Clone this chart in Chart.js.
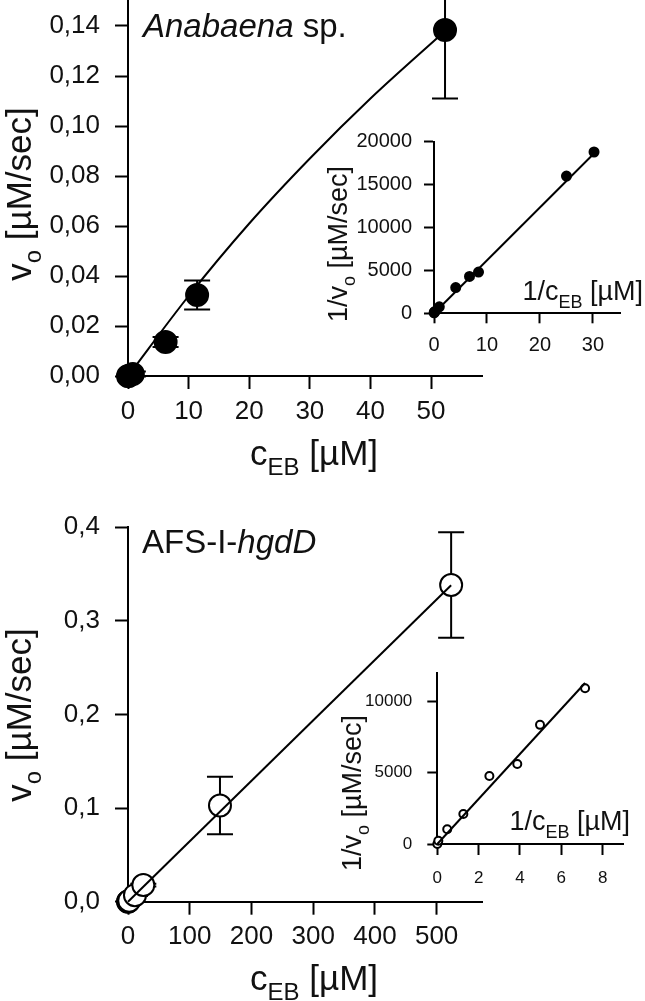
<!DOCTYPE html>
<html lang="en">
<head>
<meta charset="UTF-8">
<title>v0 vs cEB</title>
<script src="https://cdn.jsdelivr.net/npm/chart.js@4.4.1/dist/chart.umd.min.js"></script>
<style>
  body { margin: 0; background: #fff; }
  #wrap { position: relative; width: 645px; height: 1001px; }
  canvas { position: absolute; left: 0; top: 0; }
</style>
</head>
<body>
<div id="wrap">
  <canvas id="topMain" width="645" height="1001"></canvas>
  <canvas id="topInset" width="645" height="1001"></canvas>
  <canvas id="botMain" width="645" height="1001"></canvas>
  <canvas id="botInset" width="645" height="1001"></canvas>
</div>
<script>
// Anabaena sp. (filled circles)
const anaC      = [0, 0.1, 0.8, 6.2, 11.4, 52.3];
const anaV      = [0, 0, 0.0008, 0.0136, 0.0324, 0.1384];
const anaErr    = [0, 0, 0.001, 0.002, 0.0058, 0.0274];
const anaFitC   = [0, 10, 20, 30, 40, 52.3];
const anaFitV   = [0, 0.032, 0.061, 0.087, 0.111, 0.138];
// Anabaena inset, 1/c vs 1/v
const anaInvC    = [0.02, 0.09, 0.17, 1, 4.1, 6.7, 8.4, 25, 30.2];
const anaInvV    = [50, 150, 200, 750, 3000, 4300, 4800, 16000, 18800];
const anaInvFitC = [0, 30.8];
const anaInvFitV = [0, 19000];

// AFS-I-hgdD (open circles)
const afsC    = [0, 0.4, 2, 11.3, 24.8, 149, 523.5];
const afsV    = [0, 0.0003, 0.001, 0.007, 0.0178, 0.1028, 0.3383];
const afsErr  = [0, 0, 0, 0.001, 0.0015, 0.0308, 0.0564];
const afsFitC = [0, 523.5];
const afsFitV = [0, 0.338];
// AFS inset
const afsInvC    = [0.002, 0.05, 0.48, 1.26, 2.52, 3.87, 4.97, 7.15];
const afsInvV    = [0, 230, 1030, 2100, 4775, 5620, 8360, 10930];
const afsInvFitC = [0, 7.15];
const afsInvFitV = [0, 11300];

// tick values and labels
const topXTicks = [0, 10, 20, 30, 40, 50];
const topXLabels = ['0', '10', '20', '30', '40', '50'];
const topYTicks = [0, 0.02, 0.04, 0.06, 0.08, 0.10, 0.12, 0.14];
const topYLabels = ['0,00', '0,02', '0,04', '0,06', '0,08', '0,10', '0,12', '0,14'];
const topInXTicks = [0, 10, 20, 30];
const topInXLabels = ['0', '10', '20', '30'];
const topInYTicks = [0, 5000, 10000, 15000, 20000];
const topInYLabels = ['0', '5000', '10000', '15000', '20000'];
const botXTicks = [0, 100, 200, 300, 400, 500];
const botXLabels = ['0', '100', '200', '300', '400', '500'];
const botYTicks = [0, 0.1, 0.2, 0.3, 0.4];
const botYLabels = ['0,0', '0,1', '0,2', '0,3', '0,4'];
const botInXTicks = [0, 2, 4, 6, 8];
const botInXLabels = ['0', '2', '4', '6', '8'];
const botInYTicks = [0, 5000, 10000];
const botInYLabels = ['0', '5000', '10000'];

const FONT = '"Liberation Sans", Arial, Helvetica, sans-serif';
const W = 645, H = 1001;

function pts(xs, ys) { return xs.map((x, i) => ({x: x, y: ys[i]})); }

// vertical error bars, drawn under the markers
const errbarPlugin = {
  id: 'errbars',
  beforeDatasetsDraw(chart, args, opts) {
    const ctx = chart.ctx, x = chart.scales.x, y = chart.scales.y;
    chart.data.datasets.forEach(ds => {
      if (!ds.errors) return;
      ctx.save();
      ctx.strokeStyle = '#000';
      ctx.lineWidth = 2;
      ds.data.forEach((p, i) => {
        const e = ds.errors[i];
        if (!e) return;
        const px = x.getPixelForValue(p.x);
        const y1 = y.getPixelForValue(p.y + e), y2 = y.getPixelForValue(p.y - e);
        ctx.beginPath();
        ctx.moveTo(px, y1); ctx.lineTo(px, y2);
        ctx.moveTo(px - opts.cap, y1); ctx.lineTo(px + opts.cap, y1);
        ctx.moveTo(px - opts.cap, y2); ctx.lineTo(px + opts.cap, y2);
        ctx.stroke();
      });
      ctx.restore();
    });
  }
};

// titles with subscripts / italics
const textPlugin = {
  id: 'richText',
  afterDraw(chart, args, opts) {
    const ctx = chart.ctx;
    (opts.items || []).forEach(it => {
      const fontOf = p => (p.it ? 'italic ' : '') + (p.sub ? Math.round(it.size * 0.68) : it.size) + 'px ' + FONT;
      ctx.save();
      ctx.fillStyle = '#111';
      ctx.textBaseline = 'alphabetic';
      ctx.textAlign = 'left';
      let total = 0;
      it.parts.forEach(p => { ctx.font = fontOf(p); total += ctx.measureText(p.t).width; });
      ctx.translate(it.x, it.y);
      if (it.rot) ctx.rotate(-Math.PI / 2);
      let cx = it.align === 'left' ? 0 : it.align === 'right' ? -total : -total / 2;
      it.parts.forEach(p => {
        ctx.font = fontOf(p);
        ctx.fillText(p.t, cx, p.sub ? it.size * 0.28 : 0);
        cx += ctx.measureText(p.t).width;
      });
      ctx.restore();
    });
  }
};

function axis(o) {
  return {
    type: 'linear', min: o.min, max: o.max,
    afterBuildTicks: s => { s.ticks = o.ticks.map(v => ({value: v})); },
    afterFit: s => {
      if (o.w) s.width = o.w;
      if (o.h) s.height = o.h;
      s.paddingLeft = 0; s.paddingRight = 0; s.paddingTop = 0; s.paddingBottom = 0;
    },
    border: {display: true, color: '#000', width: 2},
    grid: {display: true, drawOnChartArea: false, drawTicks: true, tickLength: o.tl,
           tickWidth: 2, tickColor: '#000', color: '#000'},
    ticks: {color: '#111', font: {family: FONT, size: o.fs}, padding: o.pad,
            maxRotation: 0, minRotation: 0, autoSkip: false,
            callback: (v, i) => o.labels[i]}
  };
}

function plot(id, c) {
  const a = c.area;
  new Chart(document.getElementById(id), {
    type: 'scatter',
    data: {datasets: [
      {data: c.fit, showLine: true, borderColor: '#000', borderWidth: 2, pointRadius: 0,
       cubicInterpolationMode: 'monotone', tension: 0.4, clip: false},
      {data: c.pts, showLine: false, pointRadius: c.r, pointBackgroundColor: c.fill,
       pointBorderColor: '#000', pointBorderWidth: 2, errors: c.err, clip: false}
    ]},
    options: {
      responsive: false, animation: false, devicePixelRatio: 1, events: [],
      layout: {autoPadding: false,
               padding: {left: a.l - c.wy, top: a.t, right: W - a.r, bottom: H - a.b - c.hx}},
      plugins: {legend: {display: false}, tooltip: {enabled: false},
                errbars: {cap: c.cap || 0}, richText: {items: c.texts || []}},
      scales: {
        x: axis(Object.assign({h: c.hx}, c.x)),
        y: axis(Object.assign({w: c.wy}, c.y))
      }
    },
    plugins: [errbarPlugin, textPlugin]
  });
}

// top panel
plot('topMain', {
  area: {l: 128, r: 482, t: 0, b: 376}, wy: 128, hx: 70,
  fit: pts(anaFitC, anaFitV), pts: pts(anaC, anaV), err: anaErr,
  r: 11, fill: '#000', cap: 13,
  x: {min: 0, max: 58.4, ticks: topXTicks, labels: topXLabels, tl: 13, fs: 26, pad: 7},
  y: {min: 0, max: 0.1504, ticks: topYTicks, labels: topYLabels, tl: 13, fs: 26, pad: 15},
  texts: [
    {parts: [{t: 'Anabaena', it: true}, {t: ' sp.'}], x: 143, y: 37, size: 33, align: 'left'},
    {parts: [{t: 'c'}, {t: 'EB', sub: true}, {t: ' [µM]'}], x: 314, y: 465, size: 35},
    {parts: [{t: 'v'}, {t: 'o', sub: true}, {t: ' [µM/sec]'}], x: 31, y: 194, size: 35, rot: true}
  ]
});
plot('topInset', {
  area: {l: 434, r: 620, t: 141.7, b: 313.3}, wy: 100, hx: 50,
  fit: pts(anaInvFitC, anaInvFitV), pts: pts(anaInvC, anaInvV), err: null,
  r: 4.5, fill: '#000',
  x: {min: 0, max: 35.1, ticks: topInXTicks, labels: topInXLabels, tl: 10, fs: 20, pad: 10},
  y: {min: 0, max: 20000, ticks: topInYTicks, labels: topInYLabels, tl: 10, fs: 20, pad: 12},
  texts: [
    {parts: [{t: '1/c'}, {t: 'EB', sub: true}, {t: ' [µM]'}], x: 643, y: 300, size: 27, align: 'right'},
    {parts: [{t: '1/v'}, {t: 'o', sub: true}, {t: ' [µM/sec]'}], x: 347, y: 244, size: 27, rot: true}
  ]
});

// bottom panel
plot('botMain', {
  area: {l: 128, r: 482, t: 527.3, b: 901.7}, wy: 128, hx: 70,
  fit: pts(afsFitC, afsFitV), pts: pts(afsC, afsV), err: afsErr,
  r: 11, fill: '#fff', cap: 13,
  x: {min: 0, max: 573.5, ticks: botXTicks, labels: botXLabels, tl: 13, fs: 26, pad: 7},
  y: {min: 0, max: 0.4, ticks: botYTicks, labels: botYLabels, tl: 13, fs: 26, pad: 15},
  texts: [
    {parts: [{t: 'AFS-I-'}, {t: 'hgdD', it: true}], x: 142, y: 553, size: 33, align: 'left'},
    {parts: [{t: 'c'}, {t: 'EB', sub: true}, {t: ' [µM]'}], x: 314, y: 990, size: 35},
    {parts: [{t: 'v'}, {t: 'o', sub: true}, {t: ' [µM/sec]'}], x: 31, y: 715, size: 35, rot: true}
  ]
});
plot('botInset', {
  area: {l: 437.3, r: 623.3, t: 673, b: 844}, wy: 100, hx: 50,
  fit: pts(afsInvFitC, afsInvFitV), pts: pts(afsInvC, afsInvV), err: null,
  r: 4, fill: '#fff',
  x: {min: 0, max: 9, ticks: botInXTicks, labels: botInXLabels, tl: 11, fs: 17, pad: 13},
  y: {min: 0, max: 12000, ticks: botInYTicks, labels: botInYLabels, tl: 10, fs: 17, pad: 15},
  texts: [
    {parts: [{t: '1/c'}, {t: 'EB', sub: true}, {t: ' [µM]'}], x: 630, y: 830, size: 27, align: 'right'},
    {parts: [{t: '1/v'}, {t: 'o', sub: true}, {t: ' [µM/sec]'}], x: 361, y: 793, size: 27, rot: true}
  ]
});
</script>
</body>
</html>
